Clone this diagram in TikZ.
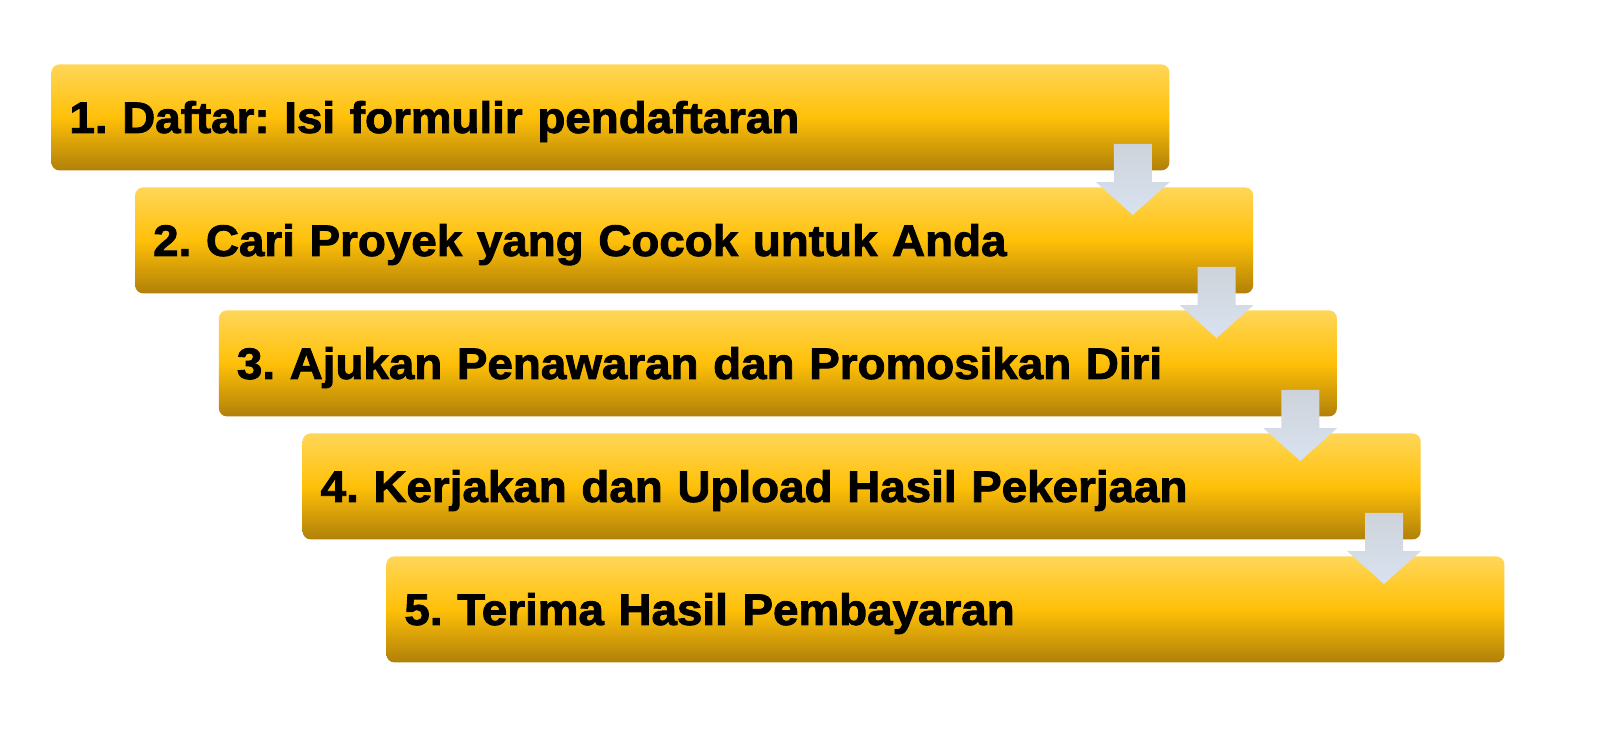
\documentclass[tikz,border=0pt]{standalone}
\usepackage{fontspec}
\newfontfamily\stepfont{Liberation Sans Bold}[FakeBold=2,FakeStretch=1.04,WordSpace=0.7]
\usetikzlibrary{calc}
\definecolor{gtop}{RGB}{255,214,88}
\definecolor{gmid}{RGB}{255,192,8}
\definecolor{gbot}{RGB}{176,128,8}
\definecolor{atop}{RGB}{206,211,218}
\definecolor{abot}{RGB}{216,226,240}
\tikzset{
  stepbox/.style={anchor=north west, rounded corners=4pt, minimum width=559pt, minimum height=53pt,
    top color=gtop, bottom color=gbot, middle color=gmid,
    inner xsep=9pt, inner ysep=0pt, text width=541pt, align=left,
    text height=15.5pt, text depth=0pt,
    font=\fontsize{22}{25}\stepfont\frenchspacing},
  flowarrow/.style={top color=atop, bottom color=abot}
}
\newcommand{\downarr}[2]{%
  \shade[flowarrow] let \p1=(#1.south east), \p2=(#2.north) in
    (\x1-28pt,\y1+13.5pt) -- (\x1-9pt,\y1+13.5pt) -- (\x1-9pt,\y2+2.5pt)
    -- (\x1,\y2+2.5pt) -- (\x1-18.5pt,\y2-14pt) -- (\x1-37pt,\y2+2.5pt)
    -- (\x1-28pt,\y2+2.5pt) -- cycle;}
\begin{document}
\begin{tikzpicture}[x=0.5pt,y=0.5pt]
\useasboundingbox[fill=white] (0,0) rectangle (1600,-744);
\node[stepbox] (s1) at (51,-64) {1. Daftar: Isi formulir pendaftaran};
\node[stepbox] (s2) at (134.75,-187) {2. Cari Proyek yang Cocok untuk Anda};
\node[stepbox] (s3) at (218.5,-310) {3. Ajukan Penawaran dan Promosikan Diri};
\node[stepbox] (s4) at (302.25,-433) {4. Kerjakan dan Upload Hasil Pekerjaan};
\node[stepbox] (s5) at (386,-556) {5. Terima Hasil Pembayaran};
\downarr{s1}{s2}
\downarr{s2}{s3}
\downarr{s3}{s4}
\downarr{s4}{s5}
\end{tikzpicture}
\end{document}
